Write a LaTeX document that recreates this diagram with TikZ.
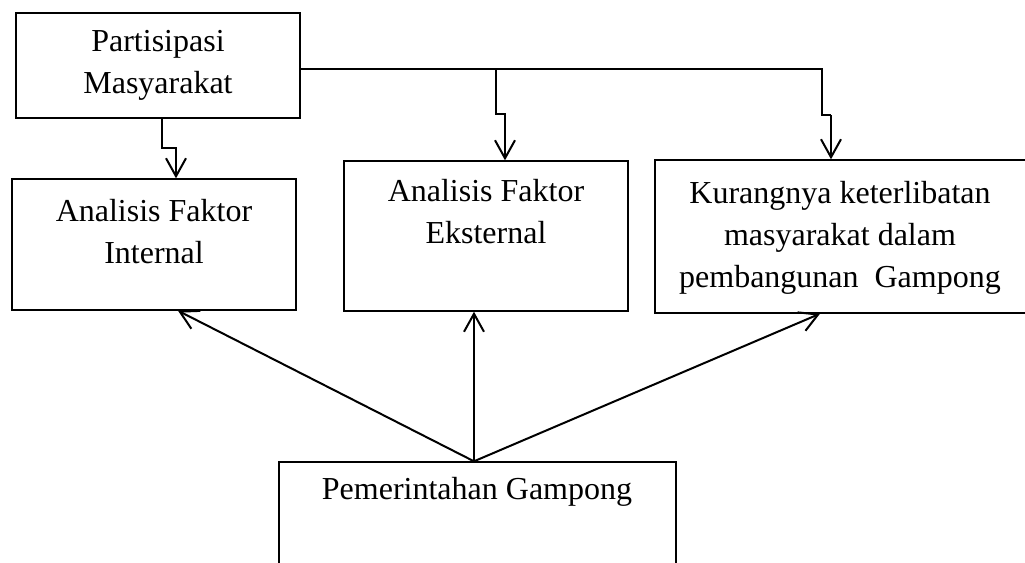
\documentclass[tikz,border=0pt]{standalone}
\usepackage{fontspec}
\setmainfont{Liberation Serif}
\usepackage{tikz}
\usetikzlibrary{arrows.meta}
\usetikzlibrary{fit}
\tikzset{box/.style={draw, line width=0.7pt, inner sep=0pt}}
\tikzset{txt/.style={align=center, inner sep=0pt, font=\fontsize{16}{21}\selectfont}}
\tikzset{conn/.style={line width=1pt, ->, >={Straight Barb[length=9pt,width=10pt]}}}

\begin{document}
\begin{tikzpicture}[x=0.5pt, y=-0.5pt]
{
\useasboundingbox (0,0) rectangle (1025,563);
\clip (0,0) rectangle (1025,563);
\node[box, fit={(16,13) (300,118)}] (partisipasi) {};
\node[box, fit={(12,179) (296,310)}] (internal) {};
\node[box, fit={(344,161) (628,311)}] (eksternal) {};
\node[box, fit={(655,160) (1026,313)}] (kurang) {};
\node[box, fit={(279,462) (676,600)}] (pemerintah) {};
\node[txt] (partisipasi-t) at (158,65) {Partisipasi\\Masyarakat};
\node[txt] (internal-t) at (154,232) {Analisis Faktor\\Internal};
\node[txt] (eksternal-t) at (486,212) {Analisis Faktor\\Eksternal};
\node[txt] (kurang-t) at (840,238) {Kurangnya keterlibatan\\masyarakat dalam\\pembangunan\ \ Gampong};
\node[txt] (pemerintah-t) at (477,492) {Pemerintahan Gampong};
\coordinate (cabang) at (496,69);
\draw[line width=1pt] (partisipasi.east |- cabang) -- (822,69) -- (822,115) -- (831,115);
\draw[conn] (831,115) -- (kurang.north -| 831,0);
\draw[conn] (cabang) -- (496,114) -- (505,114) -- (eksternal.north -| 505,0);
\draw[conn] (partisipasi.south -| 162,0) -- (162,148) -- (176,148) -- (internal.north -| 176,0);
\draw[conn] (pemerintah.north -| 474,0) -- (internal.south -| 178,0);
\draw[conn] (pemerintah.north -| 474,0) -- (eksternal.south -| 474,0);
\draw[conn] (pemerintah.north -| 474,0) -- (kurang.south -| 820,0);
}
\end{tikzpicture}
\end{document}
